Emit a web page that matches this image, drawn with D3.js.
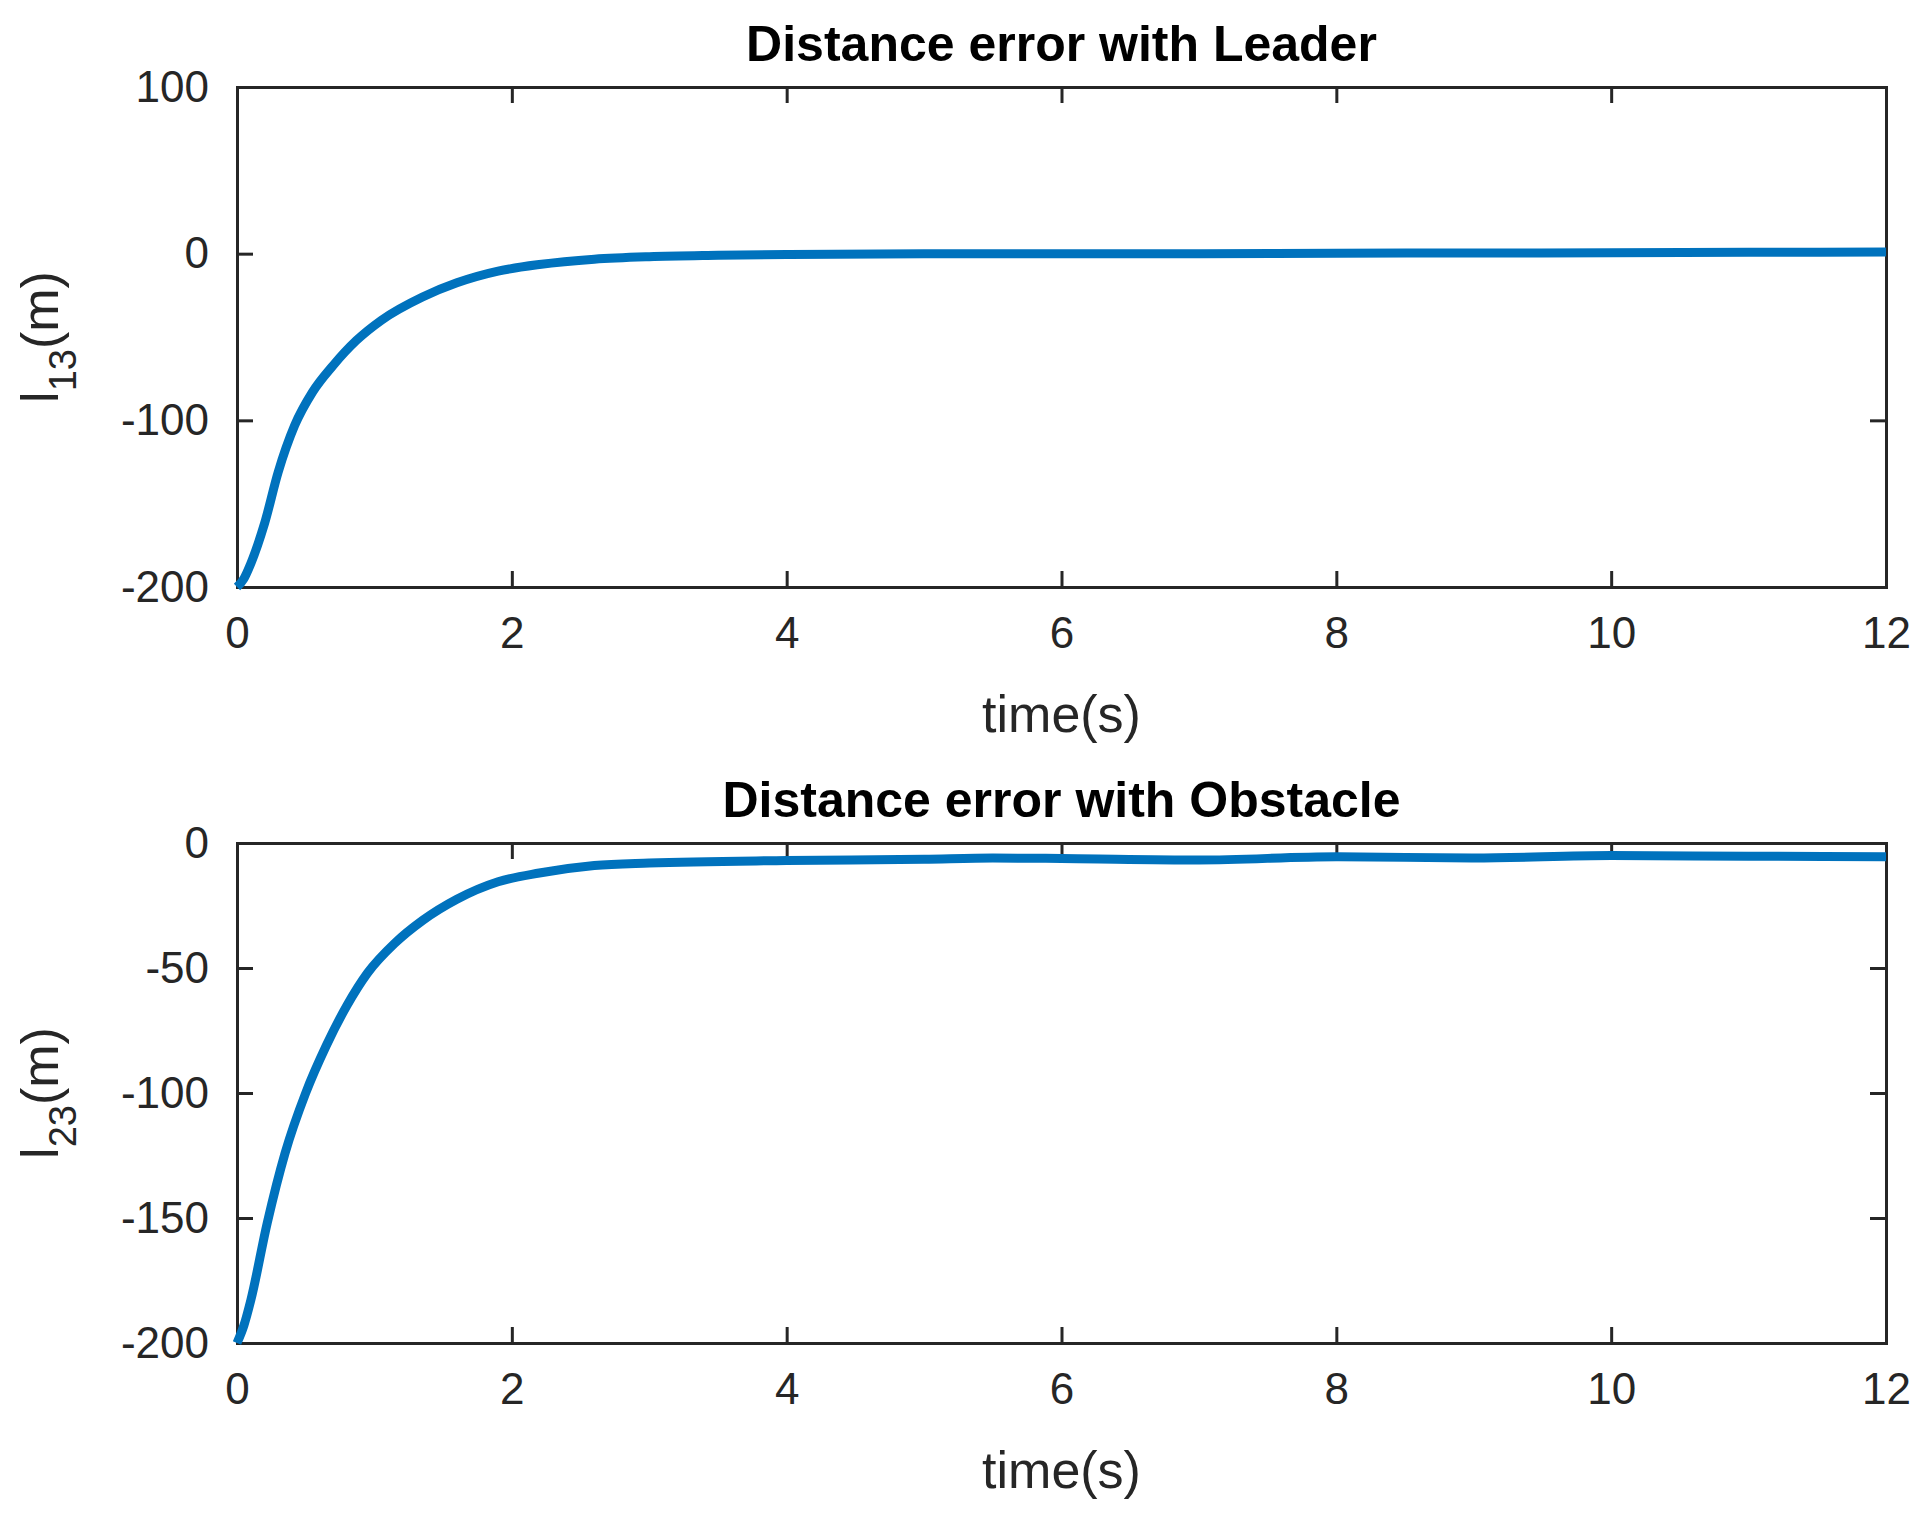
<!DOCTYPE html>
<html><head><meta charset="utf-8">
<script src="https://cdn.jsdelivr.net/npm/d3@7"></script>
<style>body{margin:0;background:#fff}svg{display:block}</style>
</head><body>
<script>
// data
let t_vals  = [0, 0.05, 0.1, 0.2, 0.3, 0.42, 0.55, 0.7, 0.87, 1.05, 1.35, 1.6, 1.9, 2.2, 2.6, 3.0, 3.5, 4, 5, 6, 7, 8, 9, 10, 11, 12];
let leader  = [-200, -195, -186, -162, -131, -103, -83, -67, -52, -40, -26, -17.5, -10.5, -6.5, -3.3, -1.8, -1, -0.5, 0, 0, 0, 0.3, 0.4, 0.5, 0.8, 1];
let t_obs   = [0, 0.05, 0.1, 0.22, 0.35, 0.5, 0.65, 0.8, 0.95, 1.15, 1.35, 1.6, 1.9, 2.2, 2.6, 3.0, 4, 5, 5.5, 6, 7, 8, 9, 10, 11, 12];
let obstacle = [-200, -193, -183, -152, -124, -100, -81, -65, -52, -40, -31, -22.5, -15.5, -12, -9, -8, -7, -6.5, -6, -6.2, -6.8, -5.5, -6, -5, -5.3, -5.5];
let x_ticks = [0, 2, 4, 6, 8, 10, 12];

let svg_width = 1929, svg_height = 1521;
let left = 237, right = 1886;
let panels = [
  {title: 'Distance error with Leader', top: 87, bottom: 587, dom: [-200, 100], ticks: [-200, -100, 0, 100], t: t_vals, y: leader, sub: '13'},
  {title: 'Distance error with Obstacle', top: 843, bottom: 1343, dom: [-200, 0], ticks: [-200, -150, -100, -50, 0], t: t_obs, y: obstacle, sub: '23'}
];

let svg = d3.select('body').append('svg').attr('width', svg_width).attr('height', svg_height)
  .style('font-family', 'Arial, "Liberation Sans", sans-serif');

let x_scale = d3.scaleLinear().domain([0, 12]).range([left, right]);
let fmt = function(d) { return String(d); };   // plain hyphen minus like the original

panels.forEach(function(p) {
  let y_scale = d3.scaleLinear().domain(p.dom).range([p.bottom, p.top]);
  let g = svg.append('g');

  // bottom axis + top mirrored ticks
  let xa = g.append('g').attr('transform', 'translate(0,' + p.bottom + ')')
    .call(d3.axisBottom(x_scale).tickValues(x_ticks).tickSize(-16).tickPadding(30).tickFormat(fmt));
  g.append('g').attr('transform', 'translate(0,' + p.top + ')')
    .call(d3.axisTop(x_scale).tickValues(x_ticks).tickSize(-16).tickFormat(''));
  let ya = g.append('g').attr('transform', 'translate(' + left + ',0)')
    .call(d3.axisLeft(y_scale).tickValues(p.ticks).tickSize(-16).tickPadding(28).tickFormat(fmt));
  g.append('g').attr('transform', 'translate(' + right + ',0)')
    .call(d3.axisRight(y_scale).tickValues(p.ticks).tickSize(-16).tickFormat(''));
  g.selectAll('.domain').attr('stroke', '#262626').attr('stroke-width', 3);
  g.selectAll('.tick line').attr('stroke', '#262626').attr('stroke-width', 3);
  g.selectAll('.tick text').attr('font-size', 44).attr('fill', '#262626');
  xa.selectAll('.tick text').attr('dy', '0.71em');

  // the line
  let line = d3.line()
    .x(function(d, i) { return x_scale(p.t[i]); })
    .y(function(d) { return y_scale(d); })
    .curve(d3.curveMonotoneX);
  g.append('path').datum(p.y).attr('d', line)
    .attr('fill', 'none').attr('stroke', '#0072BD').attr('stroke-width', 9).attr('stroke-linejoin', 'round');

  g.append('text').text(p.title)
    .attr('x', (left + right) / 2).attr('y', p.top - 26)
    .attr('text-anchor', 'middle').attr('font-size', 50).attr('font-weight', 'bold').attr('fill', '#000');

  g.append('text').text('time(s)')
    .attr('x', (left + right) / 2).attr('y', p.bottom + 145)
    .attr('text-anchor', 'middle').attr('font-size', 52).attr('fill', '#262626');

  let yl = g.append('text')
    .attr('transform', 'translate(58,' + (p.top + p.bottom) / 2 + ') rotate(-90)')
    .attr('text-anchor', 'middle').attr('font-size', 52).attr('fill', '#262626');
  yl.append('tspan').text('l');
  yl.append('tspan').text(p.sub).attr('font-size', 38).attr('dy', 18);
  yl.append('tspan').text('(m)').attr('dy', -18);
});
</script>
</body></html>
